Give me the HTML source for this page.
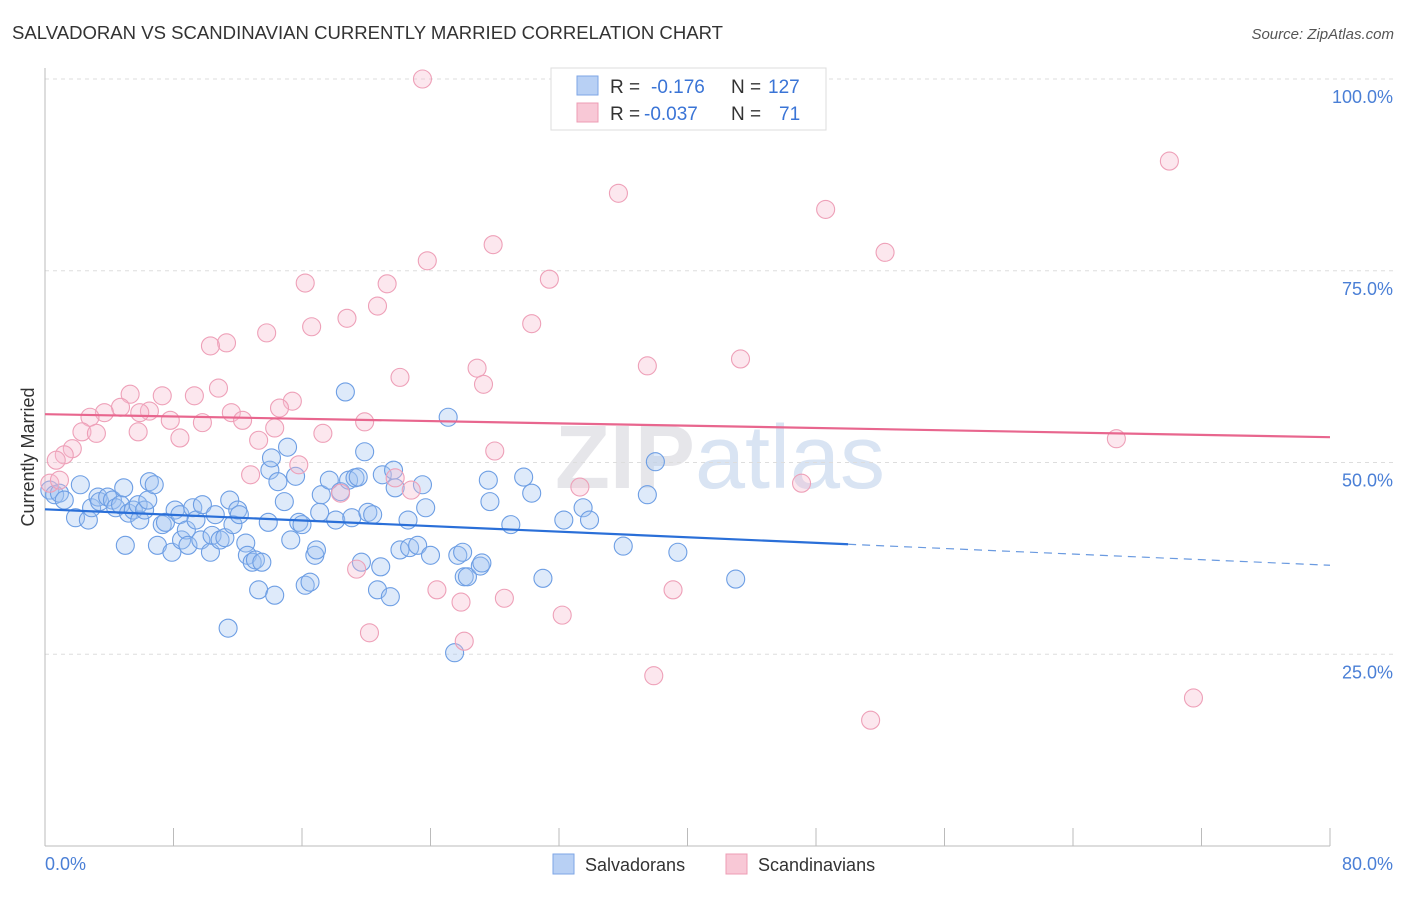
<!DOCTYPE html>
<html><head><meta charset="utf-8"><style>
body{margin:0;background:#fff;font-family:"Liberation Sans",sans-serif;}
svg text{font-family:"Liberation Sans",sans-serif;}
</style></head><body>
<svg id="chart" width="1406" height="892" xmlns="http://www.w3.org/2000/svg">
<text x="12" y="39" font-size="18" fill="#333" textLength="711" lengthAdjust="spacingAndGlyphs">SALVADORAN VS SCANDINAVIAN CURRENTLY MARRIED CORRELATION CHART</text>
<text x="1394" y="39" font-size="15" fill="#555" text-anchor="end" font-style="italic">Source: ZipAtlas.com</text>
<text x="720" y="488" font-size="90" fill="#e6e6ea" text-anchor="middle" font-family="Liberation Serif"><tspan font-weight="bold">ZIP</tspan><tspan fill="#d9e4f3" font-family="Liberation Sans">atlas</tspan></text>
<g id="grid"></g>
<line x1="45" y1="68" x2="45" y2="846" stroke="#bbb"/>
<line x1="45" y1="846" x2="1330" y2="846" stroke="#bbb"/>
<g id="xticks"></g>
<text transform="translate(34,457) rotate(-90)" font-size="18" fill="#333" text-anchor="middle">Currently Married</text>
<text x="45" y="870" font-size="18" fill="#4a7fd6">0.0%</text>
<text x="1393" y="870" font-size="18" fill="#4a7fd6" text-anchor="end">80.0%</text>
<g id="points"></g>
<g id="trends"></g>
<g>
<rect x="551" y="68" width="275" height="62" fill="#fff" stroke="#ddd"/>
<rect x="577" y="76" width="21" height="19" fill="#b8d0f4" stroke="#7ea6e6"/>
<rect x="577" y="103" width="21" height="19" fill="#f8c8d6" stroke="#ee9cb4"/>
<text x="610" y="93" font-size="19" fill="#333">R =</text><text x="651" y="93" font-size="19" fill="#3a74d6">-0.176</text>
<text x="731" y="93" font-size="19" fill="#333">N =</text><text x="768" y="93" font-size="19" fill="#3a74d6">127</text>
<text x="610" y="120" font-size="19" fill="#333">R =</text><text x="644" y="120" font-size="19" fill="#3a74d6">-0.037</text>
<text x="731" y="120" font-size="19" fill="#333">N =</text><text x="779" y="120" font-size="19" fill="#3a74d6">71</text>
</g>
<g>
<rect x="553" y="854" width="21" height="20" fill="#b8d0f4" stroke="#7ea6e6"/>
<text x="585" y="871" font-size="18" fill="#333">Salvadorans</text>
<rect x="726" y="854" width="21" height="20" fill="#f8c8d6" stroke="#ee9cb4"/>
<text x="758" y="871" font-size="18" fill="#333">Scandinavians</text>
</g>
</svg>
<script>
const yTicks=[25,50,75,100];
const yTickLabels=["25.0%","50.0%","75.0%","100.0%"];
const xTicks=[0,8,16,24,32,40,48,56,64,72,80];
const blueX=[0.3,0.6,0.9,1.2,1.9,2.2,2.7,2.9,3.3,3.4,3.9,4.2,4.4,4.7,4.9,5.2,5.5,5.8,5.9,6.2,6.4,6.5,6.8,7.0,7.3,7.5,7.9,8.1,8.4,8.5,8.8,8.9,9.2,9.4,9.7,9.8,10.3,10.4,10.6,10.9,11.2,11.5,11.7,12.0,12.1,12.5,12.6,12.9,13.1,13.3,13.5,13.9,14.0,14.1,14.3,14.5,14.9,15.1,15.3,15.6,15.8,16.0,16.2,16.5,16.8,16.9,17.1,17.2,17.7,18.1,18.4,18.7,18.9,19.1,19.3,19.5,19.7,19.9,20.1,20.4,20.7,20.9,21.0,21.5,21.7,21.8,22.1,22.6,22.7,23.2,23.5,23.7,24.0,25.1,25.5,25.7,26.0,26.1,26.3,27.1,27.2,27.6,27.7,29.0,29.8,30.3,31.0,32.3,33.5,33.9,36.0,37.5,38.0,39.4,43.0,11.4,5.0];
const blueY=[46.4,45.8,46.0,45.1,42.8,47.1,42.5,44.1,45.5,44.9,45.5,45.1,44.1,44.5,46.7,43.4,43.8,44.5,42.5,43.8,45.1,47.5,47.1,39.2,41.9,42.2,38.3,43.8,43.2,39.9,41.2,39.2,44.1,42.5,39.9,44.5,38.3,40.5,43.2,39.9,40.2,45.1,41.9,43.8,43.2,39.5,37.9,37.0,37.3,33.4,37.0,42.2,49.0,50.6,32.7,47.5,44.9,52.0,39.9,48.2,42.2,41.9,34.0,34.4,37.9,38.6,43.5,45.8,47.7,42.5,46.2,59.2,47.7,42.8,48.0,48.1,37.0,51.4,43.5,43.2,33.4,36.4,48.4,32.5,49.0,46.7,38.6,42.5,38.9,39.2,47.1,44.1,37.9,55.9,25.2,37.9,38.3,35.1,35.1,36.5,36.9,47.7,44.9,41.9,48.1,46.0,34.9,42.5,44.1,42.5,39.1,45.8,50.1,38.3,34.8,28.4,39.2];
const pinkX=[23.5,35.7,48.6,70.0,52.3,27.9,16.2,23.8,31.4,21.3,18.8,20.7,16.6,30.3,13.8,11.3,10.3,43.3,37.5,26.9,22.1,27.3,5.3,7.3,10.8,9.3,15.4,14.6,4.7,3.7,6.5,11.6,2.8,5.9,7.8,9.8,12.3,19.9,14.3,2.3,3.2,5.8,8.4,13.3,17.3,1.7,1.2,0.7,28.0,66.7,15.8,12.8,21.8,18.4,22.8,33.3,47.1,0.3,19.4,24.4,25.9,28.6,20.2,26.1,32.2,39.1,37.9,51.4,71.5,0.9];
const pinkY=[100.0,85.1,83.0,89.3,77.4,78.4,73.4,76.3,73.9,73.3,68.8,70.4,67.7,68.1,66.9,65.6,65.2,63.5,62.6,62.3,61.1,60.2,58.9,58.7,59.7,58.7,58.0,57.1,57.2,56.5,56.7,56.5,55.9,56.5,55.5,55.2,55.5,55.3,54.5,54.0,53.8,54.0,53.2,52.9,53.8,51.8,51.0,50.3,51.5,53.1,49.7,48.4,48.0,46.0,46.4,46.8,47.3,47.3,36.1,33.4,31.8,32.3,27.8,26.7,30.1,33.4,22.2,16.4,19.3,47.7];
const blueTrend=[43.9,36.6];
const blueSolidEnd=50;
const pinkTrend=[56.3,53.3];
const NS="http://www.w3.org/2000/svg";
function sx(v){return 45+v/80*1285;}
function sy(v){return 846-v/100*767;}
function mk(tag,attrs,parent){const e=document.createElementNS(NS,tag);for(const k in attrs)e.setAttribute(k,attrs[k]);parent.appendChild(e);return e;}
const grid=document.getElementById('grid');
yTicks.forEach((t,i)=>{
  const l=mk('line',{x1:45,x2:1393,y1:sy(t),y2:sy(t),stroke:'#ddd','stroke-dasharray':'4,4'},grid);
  
  
  const tx=mk('text',{x:1393,y:sy(t)+24,'font-size':18,fill:'#4a7fd6','text-anchor':'end'},grid);
  tx.textContent=yTickLabels[i];
  
  
});
const xt=document.getElementById('xticks');
xTicks.forEach(t=>{
  const l=mk('line',{x1:sx(t),x2:sx(t),y1:828,y2:846,stroke:'#bbb'},xt);
  
  
});
const pts=document.getElementById('points');
blueX.forEach((x,i)=>{
  const c=mk('circle',{cx:sx(x),cy:sy(blueY[i]),r:9,fill:'rgba(160,195,242,0.35)',stroke:'#6d9ee4','stroke-width':1.1},pts);
  
  
});
pinkX.forEach((x,i)=>{
  const c=mk('circle',{cx:sx(x),cy:sy(pinkY[i]),r:9,fill:'rgba(246,186,205,0.35)',stroke:'#eea0b8','stroke-width':1.1},pts);
  
  
});
const tr=document.getElementById('trends');
const bAt=x=>blueTrend[0]+(blueTrend[1]-blueTrend[0])*x/80;
let l1=mk('line',{x1:sx(0),y1:sy(blueTrend[0]),x2:sx(blueSolidEnd),y2:sy(bAt(blueSolidEnd)),stroke:'#2a6fd8','stroke-width':2.2},tr);


let l2=mk('line',{x1:sx(blueSolidEnd),y1:sy(bAt(blueSolidEnd)),x2:sx(80),y2:sy(blueTrend[1]),stroke:'#6a9ae0','stroke-width':1.2,'stroke-dasharray':'8,6'},tr);


let l3=mk('line',{x1:sx(0),y1:sy(pinkTrend[0]),x2:sx(80),y2:sy(pinkTrend[1]),stroke:'#e8668e','stroke-width':2.2},tr);


</script>
</body></html>
